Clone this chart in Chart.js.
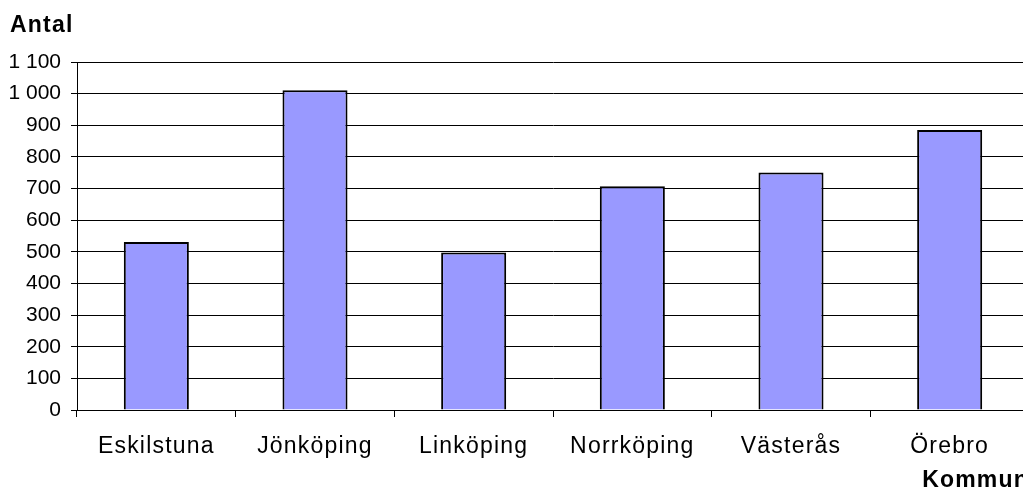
<!DOCTYPE html>
<html>
<head>
<meta charset="utf-8">
<script src="https://cdn.jsdelivr.net/npm/chart.js@4/dist/chart.umd.min.js"></script>
<style>
  html, body { margin: 0; padding: 0; overflow: hidden; background: #fff; }
</style>
</head>
<body>
<canvas id="kommunChart" width="1040" height="491"></canvas>
<script>
var kommuner = ['Eskilstuna', 'Jönköping', 'Linköping', 'Norrköping', 'Västerås', 'Örebro'];
var antal = [531, 1011, 498, 707, 751, 885];
var y_min = 0;
var y_max = 1100;
var y_step = 100;

var font_name = "'Liberation Sans', Arial, sans-serif";

function formatTal(value) {
  // swedish style: space as thousands separator
  let s = String(value);
  return s.replace(/\B(?=(\d{3})+(?!\d))/g, ' ');
}

// the original text is a bit spaced out, except the y tick numbers
const spacingPlugin = {
  id: 'spacing',
  beforeDraw(chart) {
    chart.ctx.letterSpacing = '1.2px';
    let y = chart.scales.y;
    if (!y._plainLabels) {
      let orig = y.drawLabels;
      y.drawLabels = function(area) {
        this.ctx.letterSpacing = '0px';
        orig.call(this, area);
        this.ctx.letterSpacing = '1.2px';
      };
      y._plainLabels = true;
    }
  }
};

Chart.defaults.color = '#000';
Chart.defaults.font.family = font_name;

const graph_config = {
  type: 'bar',
  data: {
    labels: kommuner,
    datasets: [{
      label: 'Antal',
      data: antal,
      backgroundColor: '#9999ff',
      borderColor: '#000',
      borderWidth: 2,
      barPercentage: 0.41,
      categoryPercentage: 1
    }]
  },
  options: {
    responsive: false,
    animation: false,
    layout: { padding: { left: 10, right: 11, top: 0, bottom: 0 } },
    plugins: {
      legend: { display: false },
      tooltip: { enabled: false },
      title: {
        display: true,
        text: 'Antal',
        align: 'start',
        color: '#000',
        font: { size: 23, weight: 'bold', lineHeight: 1 },
        padding: { top: 14, bottom: 25 }
      }
    },
    scales: {
      x: {
        grid: { offset: true, drawOnChartArea: false, tickLength: 7, color: '#000' },
        border: { color: '#000' },
        ticks: { font: { size: 23 }, padding: 16, maxRotation: 0, autoSkip: false },
        title: {
          display: true,
          text: 'Kommun',
          align: 'end',
          color: '#000',
          font: { size: 23, weight: 'bold', lineHeight: 1 },
          padding: { top: 0, bottom: -1 }
        },
        afterFit: function(scale) { scale.height = 81; }
      },
      y: {
        min: y_min,
        max: y_max,
        grid: { color: '#000', tickLength: 6 },
        border: { color: '#000' },
        ticks: {
          stepSize: y_step,
          font: { size: 21 },
          padding: 10,
          callback: function(value) { return formatTal(value); }
        },
        afterFit: function(scale) { scale.width = 67; }
      }
    }
  },
  plugins: [spacingPlugin]
};

const kommunChart = new Chart(document.getElementById('kommunChart'), graph_config);
</script>
</body>
</html>
